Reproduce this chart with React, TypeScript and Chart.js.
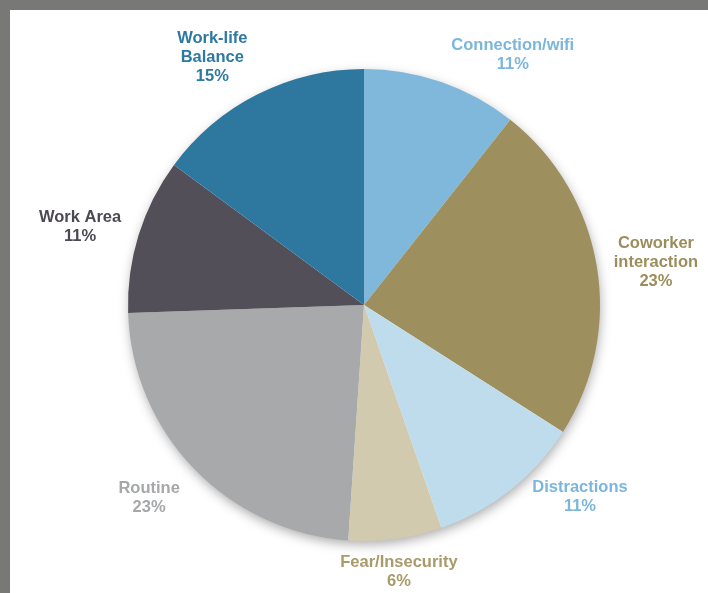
import React, { useEffect, useRef } from "react";
import { Chart, registerables } from "chart.js";

Chart.register(...registerables);

const categories = [
  "Connection/wifi",
  "Coworker interaction",
  "Distractions",
  "Fear/Insecurity",
  "Routine",
  "Work Area",
  "Work-life Balance",
];
const labelLines = [
  ["Connection/wifi"],
  ["Coworker", "interaction"],
  ["Distractions"],
  ["Fear/Insecurity"],
  ["Routine"],
  ["Work Area"],
  ["Work-life", "Balance"],
];
const responses = [5, 11, 5, 3, 11, 5, 7];
const sliceColors = ["#7FB8DB", "#9E8F5E", "#BFDCEC", "#D1CAAF", "#A8A9AB", "#534F59", "#2E789F"];
const labelColors = ["#7BB6DC", "#9C8E5C", "#7BB6DC", "#A89A6A", "#A6A7A9", "#4D4953", "#2E79A2"];

const labelOffsets = [
  [53, 26],
  [4, 6],
  [35, -37],
  [-4, -22],
  [-5, -10],
  [-5, 8],
  [-20, 13],
];

const shadowPlugin = {
  id: "pieShadow",
  beforeDatasetsDraw(chart: any) {
    const arc = chart.getDatasetMeta(0).data[0];
    if (!arc) return;
    const { x, y, outerRadius } = arc.getProps(["x", "y", "outerRadius"], true);
    const ctx = chart.ctx;
    ctx.save();
    ctx.shadowColor = "rgba(0,0,0,0.35)";
    ctx.shadowBlur = 12;
    ctx.shadowOffsetX = 1;
    ctx.shadowOffsetY = 4;
    ctx.fillStyle = "#ffffff";
    ctx.beginPath();
    ctx.arc(x, y, outerRadius - 1, 0, Math.PI * 2);
    ctx.fill();
    ctx.restore();
  },
};

const labelPlugin = {
  id: "outLabels",
  afterDatasetsDraw(chart: any) {
    const ctx = chart.ctx;
    const meta = chart.getDatasetMeta(0);
    const data = chart.data.datasets[0].data as number[];
    const total = data.reduce((a, b) => a + b, 0);
    ctx.save();
    ctx.font = "bold 16.5px 'Liberation Sans', Arial, sans-serif";
    ctx.textAlign = "center";
    ctx.textBaseline = "middle";
    meta.data.forEach((el: any, i: number) => {
      const { x, y, startAngle, endAngle, outerRadius } = el.getProps(
        ["x", "y", "startAngle", "endAngle", "outerRadius"],
        true
      );
      const mid = (startAngle + endAngle) / 2;
      const d = outerRadius + 56;
      const px = x + Math.cos(mid) * d + labelOffsets[i][0];
      const py = y + Math.sin(mid) * d + labelOffsets[i][1];
      const lines = [...labelLines[i], Math.round((data[i] / total) * 100) + "%"];
      const lh = 19;
      const top = py - ((lines.length - 1) * lh) / 2;
      ctx.fillStyle = labelColors[i];
      lines.forEach((t, k) => ctx.fillText(t, px, top + k * lh));
    });
    ctx.restore();
  },
};

export default function App() {
  const ref = useRef<HTMLCanvasElement>(null);
  useEffect(() => {
    if (!ref.current) return;
    const chart = new Chart(ref.current, {
      type: "pie",
      data: {
        labels: categories,
        datasets: [
          {
            data: responses,
            backgroundColor: sliceColors,
            borderWidth: 0,
          },
        ],
      },
      options: {
        responsive: false,
        animation: false,
        layout: { padding: { top: 69, bottom: 52, left: 128, right: 108 } },
        plugins: {
          legend: { display: false },
          tooltip: { enabled: false },
        },
      },
      plugins: [shadowPlugin, labelPlugin],
    });
    return () => chart.destroy();
  }, []);
  return (
    <div style={{ position: "fixed", left: 0, top: 0, width: 708, height: 593, background: "#787877" }}>
      <div style={{ position: "absolute", left: 10, top: 10, right: 0, bottom: 0, background: "#ffffff" }} />
      <canvas ref={ref} width={708} height={593} style={{ position: "absolute", left: 0, top: 0 }} />
    </div>
  );
}
